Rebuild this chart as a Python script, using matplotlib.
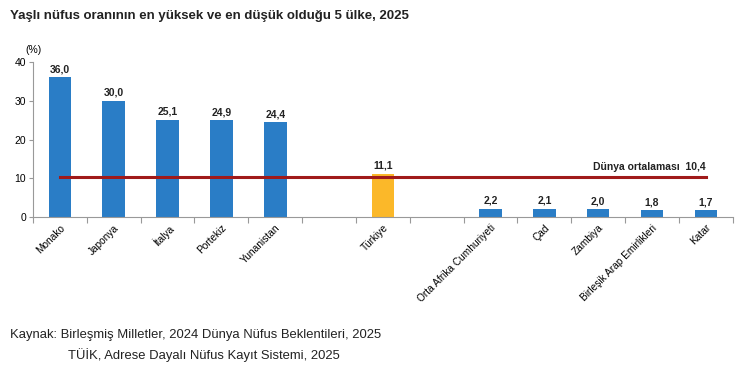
import numpy as np
import matplotlib.pyplot as plt

plt.rcParams['font.family'] = ['Liberation Sans', 'DejaVu Sans']

countries = ["Monako", "Japonya", "İtalya", "Portekiz", "Yunanistan", "",
             "Türkiye", "", "Orta Afrika Cumhuriyeti", "Çad", "Zambiya",
             "Birleşik Arap Emirlikleri", "Katar"]
values = [36.0, 30.0, 25.1, 24.9, 24.4, None, 11.1, None, 2.2, 2.1, 2.0, 1.8, 1.7]
world_avg = 10.4

blue = '#2a7dc6'
yellow = '#fbb829'

fig = plt.figure(figsize=(7.5, 3.73), dpi=100)
ax = fig.add_axes([0.044, 0.418, 0.933, 0.416])

x = np.arange(len(countries))
for i, (c, v) in enumerate(zip(countries, values)):
    if v is None:
        continue
    col = yellow if c == "Türkiye" else blue
    ax.bar(i, v, width=0.42, color=col, zorder=2)
    ax.text(i, v + 0.8, f"{v:.1f}".replace('.', ','), ha='center', va='bottom',
            fontsize=7.5, fontweight='bold', color='#222222')

ax.plot([x[0], x[-1]], [world_avg, world_avg], color='#a01a1a', lw=2.2, zorder=3)
ax.text(x[-1], world_avg + 1.2, "Dünya ortalaması  " + f"{world_avg:.1f}".replace('.', ','),
        ha='right', va='bottom', fontsize=7.5, fontweight='bold', color='#222222')

ax.set_xlim(-0.5, len(countries) - 0.5)
ax.set_ylim(0, 40)
ax.set_yticks([0, 10, 20, 30, 40])
ax.tick_params(axis='y', labelsize=7.5, length=3, color='#999999', pad=2)

ax.set_xticks(np.arange(len(countries) + 1) - 0.5)
ax.set_xticklabels([])
ax.tick_params(axis='x', which='major', length=4, color='#999999', direction='out')
ax.set_xticks(x, minor=True)
ax.set_xticklabels(countries, minor=True, rotation=45, ha='right',
                   rotation_mode='anchor', fontsize=7.3)
ax.tick_params(axis='x', which='minor', length=0, pad=4)

for s in ['top', 'right']:
    ax.spines[s].set_visible(False)
for s in ['left', 'bottom']:
    ax.spines[s].set_color('#999999')

fig.text(33 / 750, 1 - 50 / 373, "(%)", fontsize=7.5, ha='center', va='center')
fig.text(10 / 750, 1 - 16 / 373, "Yaşlı nüfus oranının en yüksek ve en düşük olduğu 5 ülke, 2025",
         fontsize=9.5, fontweight='bold', va='center', color='#222222')
fig.text(10 / 750, 1 - 335 / 373, "Kaynak: Birleşmiş Milletler, 2024 Dünya Nüfus Beklentileri, 2025",
         fontsize=9.4, va='center', color='#222222')
fig.text(68 / 750, 1 - 355 / 373, "TÜİK, Adrese Dayalı Nüfus Kayıt Sistemi, 2025",
         fontsize=9.4, va='center', color='#222222')

fig.savefig("out.png", dpi=100)
